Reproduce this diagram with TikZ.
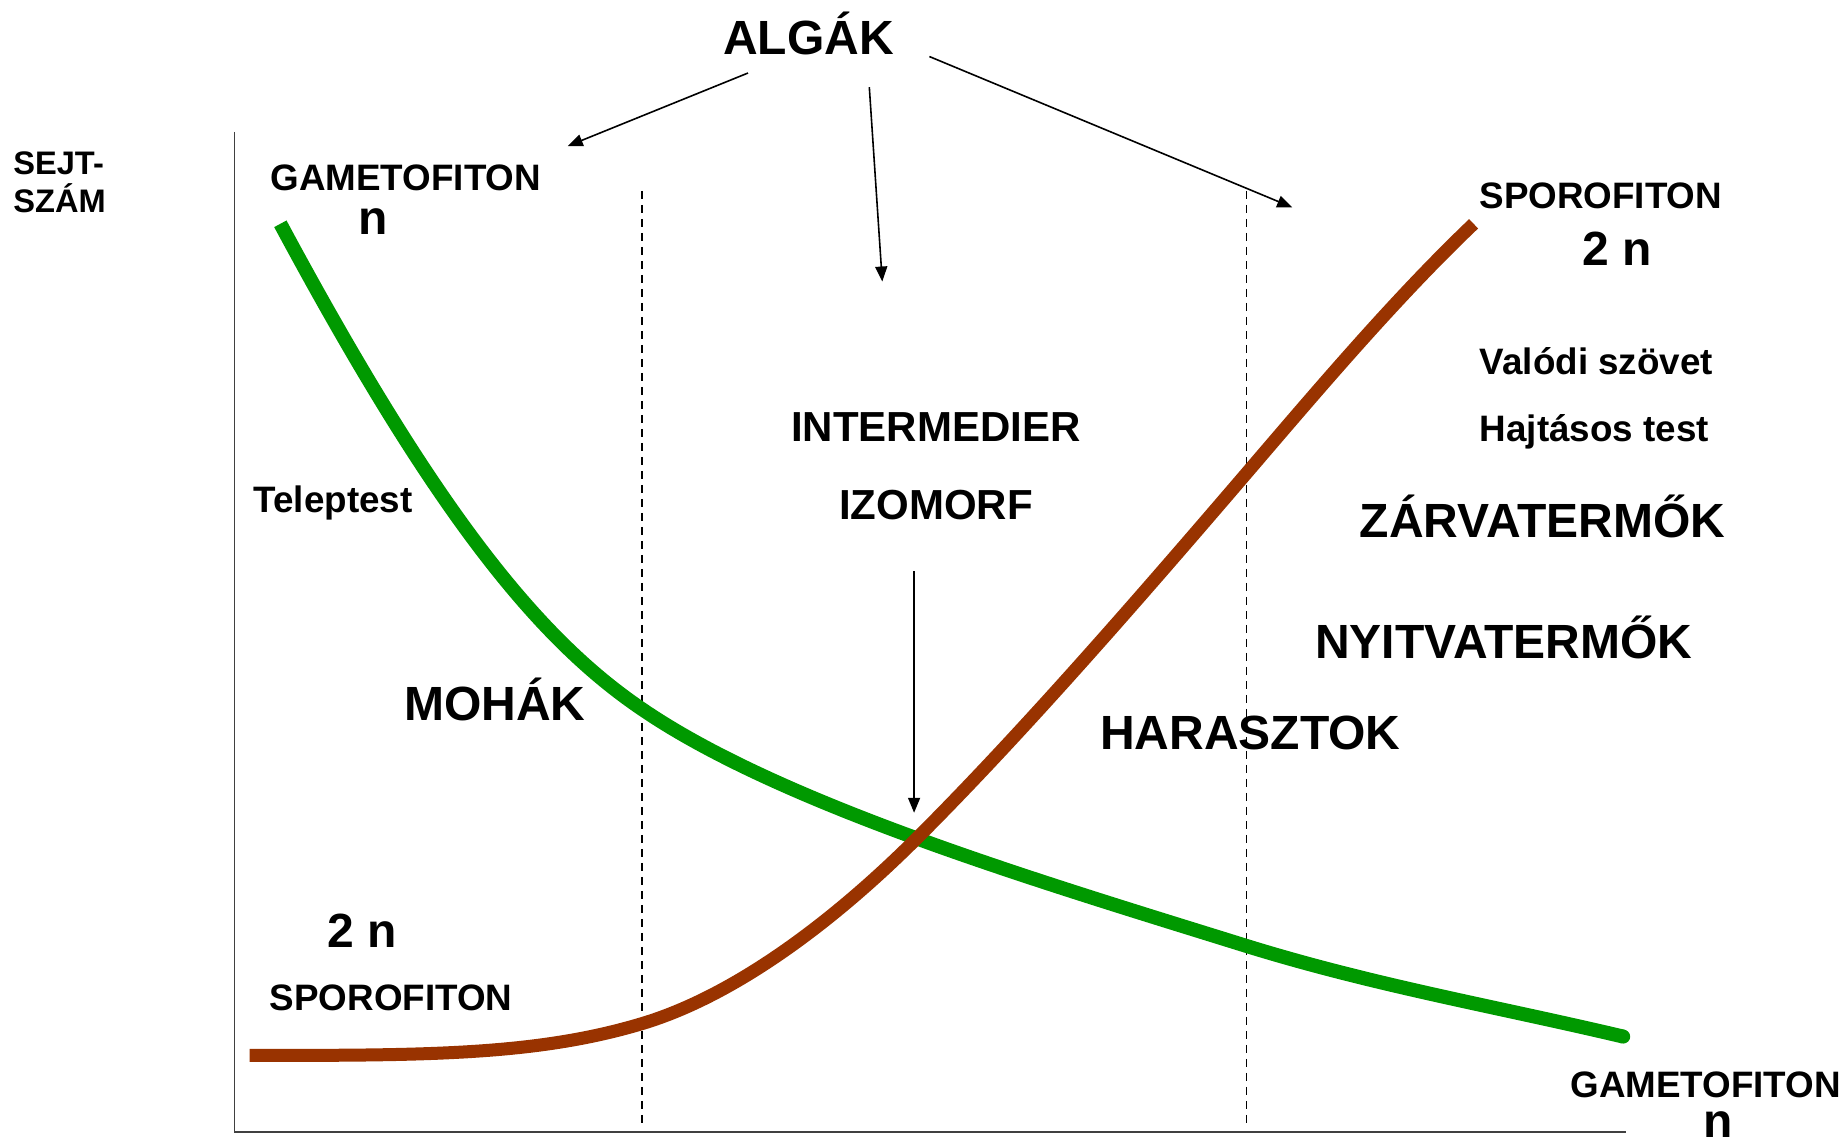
\documentclass[tikz,border=0pt]{standalone}
\usepackage{fontspec}
\setmainfont{Liberation Sans}
\usetikzlibrary{arrows.meta}
\definecolor{gcurve}{HTML}{009900}
\definecolor{bcurve}{HTML}{993300}
\tikzset{
  lbl/.style={inner sep=0pt, anchor=base, font=\bfseries\fontsize{18.4}{22}\selectfont},
  small/.style={inner sep=0pt, anchor=base west, font=\bfseries\fontsize{16.3}{20}\selectfont},
  big/.style={inner sep=0pt, anchor=base, font=\bfseries\fontsize{24}{28}\selectfont},
  mid/.style={inner sep=0pt, anchor=base, font=\bfseries\fontsize{21}{25}\selectfont},
  axis/.style={line width=0.9pt, draw=black!75},
  divider/.style={line width=0.6pt, dash pattern=on 4pt off 3pt},
  arr/.style={line width=0.8pt, -{Triangle[length=7.5pt,width=6pt]}},
  gline/.style={line width=7pt, draw=gcurve},
  bline/.style={line width=6.5pt, draw=bcurve},
}
\begin{document}
\begin{tikzpicture}[x=0.589pt, y=-0.589pt]
\useasboundingbox (0,0) rectangle (1568,969);
% axes
\coordinate (ytop) at (199,112);
\coordinate (orig) at (199,961);
\coordinate (xend) at (1380,961);
\draw[axis] (ytop) -- (orig) -- (xend);
% dividers
\coordinate (d1t) at (545,162); \coordinate (d1b) at (545,955);
\coordinate (d2t) at (1058,162); \coordinate (d2b) at (1058,955);
\draw[divider] (d1t) -- (d1b);
\draw[divider] (d2t) -- (d2b);
% green curve (gametophyte)
\coordinate (g0) at (238,190);
\coordinate (g1) at (545,602);
\coordinate (g2) at (1058,803);
\coordinate (gend) at (1378,880);
\draw[gline] (g0) .. controls (368,432) and (455,541) .. (g1)
  .. controls (665,684) and (888,750) .. (g2)
  .. controls (1168,837) and (1268,854) .. (gend);
\fill[gcurve] (gend) circle (3.5pt);
% brown curve (sporophyte)
\coordinate (b0) at (212,896);
\coordinate (b1) at (545,869);
\coordinate (b2) at (779,711);
\coordinate (b3) at (1058,402);
\coordinate (bend) at (1251,190);
\draw[bline] (b0) .. controls (362,896) and (455,896) .. (b1)
  .. controls (625,845) and (709,781) .. (b2)
  .. controls (869,621) and (968,507) .. (b3)
  .. controls (1123,326) and (1186,252) .. (bend);
% texts
\node[big] (algak) at (686.5,46) {ALGÁK};
\node[lbl] (gamtop) at (344.5,162) {GAMETOFITON};
\node[big] (ntop) at (317,199) {n};
\node[small] (sejt) at (11,148) {SEJT-};
\node[small] (szam) at (11,180.5) {SZÁM};
\node[lbl] (sportop) at (1359,177) {SPOROFITON};
\node[big] (twontop) at (1373,225) {2 n};
\node[lbl, anchor=base west] (valodi) at (1256,318) {Valódi szövet};
\node[lbl, anchor=base west] (hajtasos) at (1256,375) {Hajtásos test};
\node[mid] (inter) at (794.5,375) {INTERMEDIER};
\node[mid] (izo) at (794.5,441) {IZOMORF};
\node[lbl, anchor=base west] (telep) at (215,435) {Teleptest};
\node[big] (mohak) at (420,612) {MOHÁK};
\node[big] (zarva) at (1309.5,456) {ZÁRVATERMŐK};
\node[big] (nyitva) at (1276.5,559) {NYITVATERMŐK};
\node[big] (haraszt) at (1061.5,636) {HARASZTOK};
\node[big] (twonbot) at (307.5,804) {2 n};
\node[lbl] (sporbot) at (332,858) {SPOROFITON};
\node[lbl] (gambot) at (1448,932) {GAMETOFITON};
\node[big] (nbot) at (1459,966) {n};
% arrows
\coordinate (a1s) at (635,62);  \coordinate (a1e) at (482,124);
\coordinate (a2s) at (738,74);  \coordinate (a2e) at (749,239);
\coordinate (a3s) at (789,48);  \coordinate (a3e) at (1097,176);
\coordinate (a4s) at (776,485); \coordinate (a4e) at (776,690);
\draw[arr] (a1s) -- (a1e);
\draw[arr] (a2s) -- (a2e);
\draw[arr] (a3s) -- (a3e);
\draw[arr] (a4s) -- (a4e);
\end{tikzpicture}
\end{document}
